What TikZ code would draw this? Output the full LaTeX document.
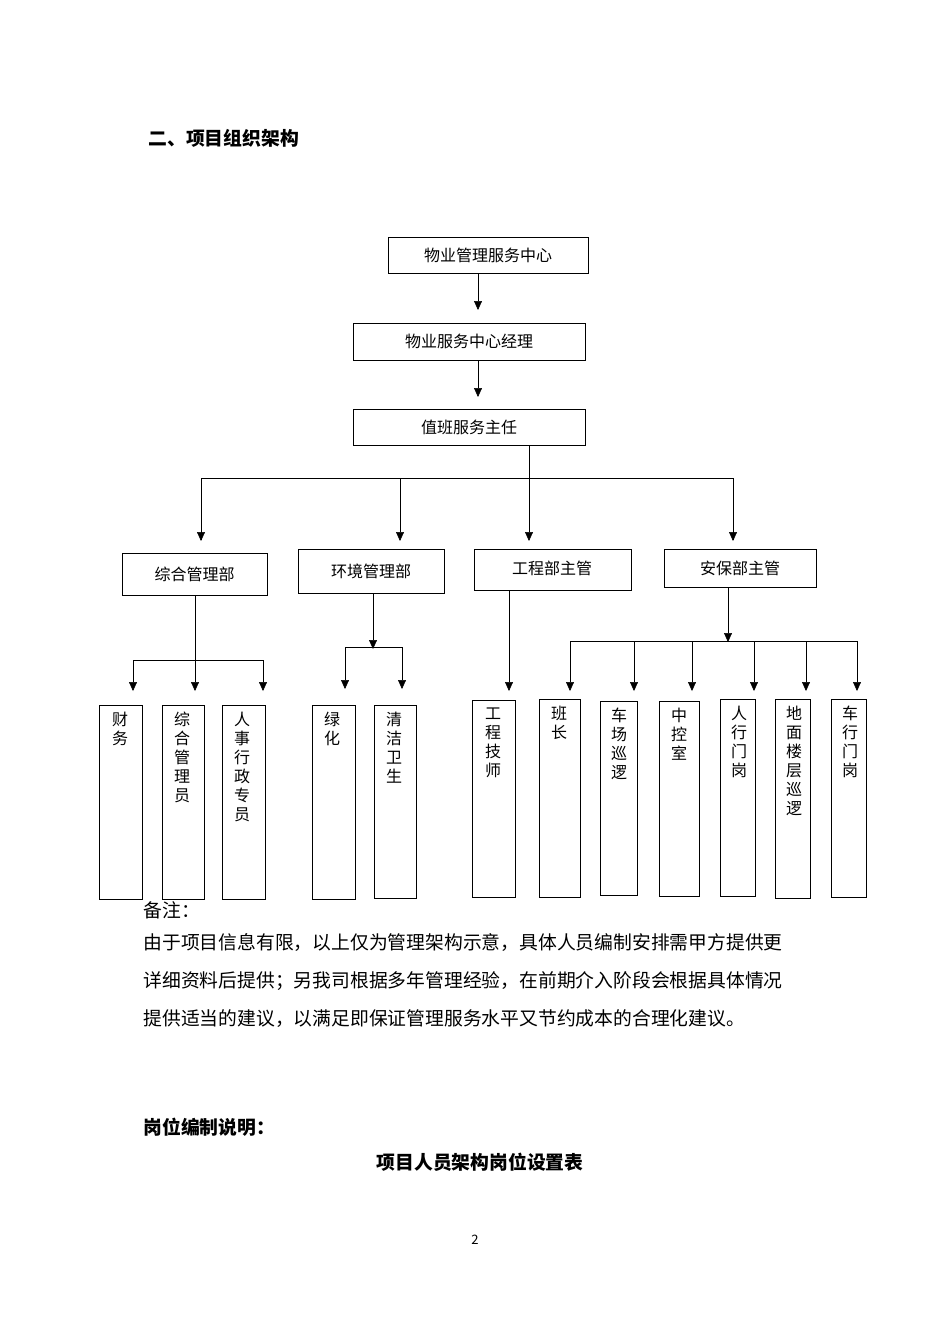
\documentclass[tikz,border=0pt]{standalone}
\usepackage{fontspec}
\setmainfont{Noto Sans CJK SC}
\usetikzlibrary{arrows.meta}
\begin{document}
\begin{tikzpicture}[x=1pt,y=-1pt,
 bx/.style={draw,thin,inner sep=0},
 ln/.style={draw,line width=0.5pt},
 ar/.style={ln,-{Triangle[length=9pt,width=8pt]}},
 txt/.style={font=\fontsize{16}{19}\selectfont},
 nt/.style={anchor=west,font=\fontsize{18.8}{22}\selectfont},
 vt/.style={font=\fontsize{16}{19}\selectfont,align=center,anchor=north,inner sep=0}]
\useasboundingbox (0,0) rectangle (950,1344);
\node[anchor=west,font=\fontsize{18.8}{22}\selectfont\bfseries] (title) at (145,138) {二、项目组织架构};
\draw[bx] (388,237) rectangle (588,273); \node[txt] (a) at (488,255) {物业管理服务中心};
\draw[bx] (353,323) rectangle (585,360); \node[txt] (b) at (469,341) {物业服务中心经理};
\draw[bx] (353,409) rectangle (585,445); \node[txt] (c) at (469,427) {值班服务主任};
\coordinate (a1) at (478,273); \coordinate (a2) at (478,310);
\draw[ar] (a1)--(a2);
\coordinate (b1) at (478,360); \coordinate (b2) at (478,397);
\draw[ar] (b1)--(b2);
\coordinate (c1) at (529,445); \coordinate (c2) at (529,478);
\draw[ln] (c1)--(c2);
\draw[ln] (201,540)--(201,478)--(733,478)--(733,540);
\draw[ar] (201,490)--(201,541);
\draw[ar] (400,478)--(400,541);
\draw[ar] (529,478)--(529,541);
\draw[ar] (733,490)--(733,541);
% depts
\draw[bx] (122,553) rectangle (267,595); \node[txt] (d1) at (194.5,574) {综合管理部};
\draw[bx] (298,549) rectangle (444,593); \node[txt] (d2) at (371,571) {环境管理部};
\draw[bx] (474,549) rectangle (631,590); \node[txt] (d3) at (552,568) {工程部主管};
\draw[bx] (664,549) rectangle (816,587); \node[txt] (d4) at (740,568) {安保部主管};
% 综合
\draw[ln] (195,595)--(195,660);
\draw[ln] (133,660)--(263,660);
\foreach \x in {133,195,263} \draw[ar] (\x,660)--(\x,691);
\draw[bx] (99,705) rectangle (142,899); \node[vt] at (120,712) {财\\务};
\draw[bx] (162,705) rectangle (204,899); \node[vt] at (182,712) {综\\合\\管\\理\\员};
\draw[bx] (222,705) rectangle (265,899); \node[vt] at (242,712) {人\\事\\行\\政\\专\\员};
% 环境
\draw[ar] (373,593)--(373,649);
\draw[ln] (345,647)--(402,647);
\foreach \x in {345,402} \draw[ar] (\x,647)--(\x,689);
\draw[bx] (312,705) rectangle (355,899); \node[vt] at (332,712) {绿\\化};
\draw[bx] (374,705) rectangle (416,898); \node[vt] at (394,712) {清\\洁\\卫\\生};
% 工程
\draw[ar] (509,590)--(509,691);
\draw[bx] (472,700) rectangle (515,897); \node[vt] at (493,708) {工\\程\\技\\师};
% 安保
\draw[ar] (728,587)--(728,642);
\draw[ln] (570,641)--(857,641);
\foreach \x in {570,634,692,754,806,857} \draw[ar] (\x,641)--(\x,691);
\draw[bx] (539,699) rectangle (580,897); \node[vt] at (559,706) {班\\长};
\draw[bx] (600,701) rectangle (637,895); \node[vt] at (619,708) {车\\场\\巡\\逻};
\draw[bx] (659,701) rectangle (699,896); \node[vt] at (679,708) {中\\控\\室};
\draw[bx] (720,699) rectangle (755,896); \node[vt] at (739,706) {人\\行\\门\\岗};
\draw[bx] (775,699) rectangle (810,898); \node[vt] at (794,706) {地\\面\\楼\\层\\巡\\逻};
\draw[bx] (831,699) rectangle (866,897); \node[vt] at (850,706) {车\\行\\门\\岗};
% notes
\node[nt] (n0) at (140,910) {备注：};
\node[nt] (n1) at (140,943) {由于项目信息有限，以上仅为管理架构示意，具体人员编制安排需甲方提供更};
\node[nt] (n2) at (140,981) {详细资料后提供；另我司根据多年管理经验，在前期介入阶段会根据具体情况};
\node[nt] (n3) at (140,1019) {提供适当的建议，以满足即保证管理服务水平又节约成本的合理化建议。};
\node[nt,font=\fontsize{18.8}{22}\selectfont\bfseries] (s) at (140,1127) {岗位编制说明：};
\node[font=\fontsize{18.8}{22}\selectfont\bfseries] (t) at (480,1162) {项目人员架构岗位设置表};
\node[font=\fontsize{13}{15}\selectfont] (p) at (475,1240) {2};
\end{tikzpicture}
\end{document}
